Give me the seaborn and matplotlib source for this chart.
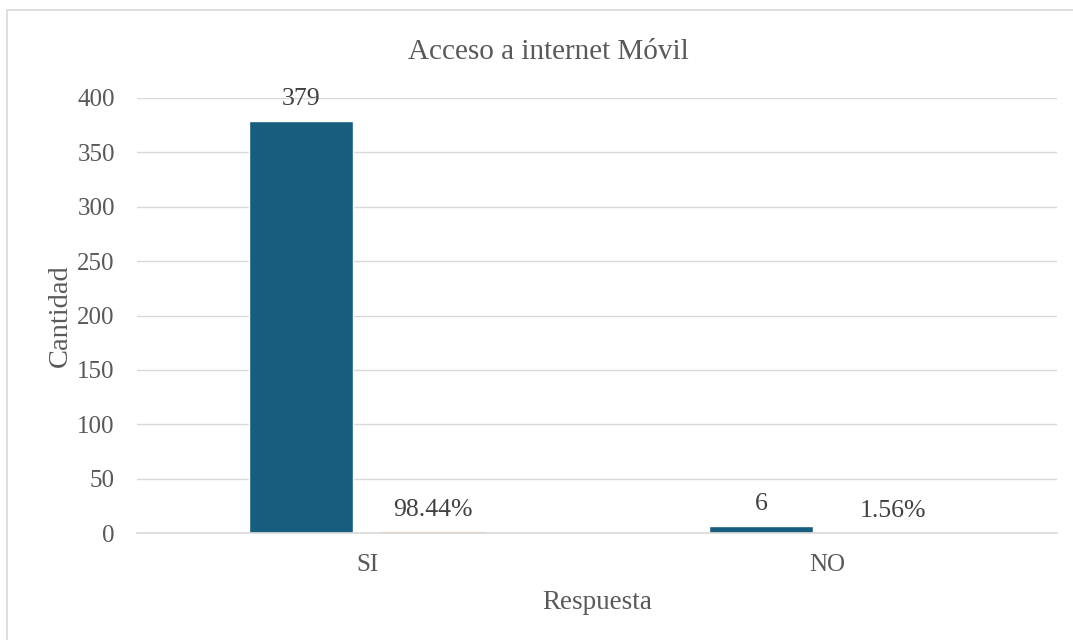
import matplotlib
matplotlib.use("Agg")
import matplotlib.pyplot as plt
import seaborn as sns
import pandas as pd
from matplotlib.patches import Rectangle

# Data
respuestas = ["SI", "NO"]
cantidad = [379, 6]
porcentaje = [0.9844, 0.0156]
series = ["Cantidad", "Porcentaje"]

df = pd.DataFrame({
    "Respuesta": respuestas * 2,
    "Serie": [series[0]] * len(respuestas) + [series[1]] * len(respuestas),
    "Valor": cantidad + porcentaje,
})

sns.set_theme(style="white")
plt.rcParams["font.family"] = ["Liberation Serif", "DejaVu Serif"]

fig = plt.figure(figsize=(10.73, 6.4), dpi=100)
ax = fig.add_axes([137 / 1073, 1 - 533 / 640, 920 / 1073, 435 / 640])

palette = {"Cantidad": "#175e7e", "Porcentaje": "#ed9a6a"}
sns.barplot(data=df, x="Respuesta", y="Valor", hue="Serie", order=respuestas,
            hue_order=series, palette=palette, width=0.572, gap=0.21,
            legend=False, ax=ax, saturation=1)

ax.set_ylim(0, 400)
ax.set_xlim(-0.5, 1.5)
ax.set_yticks(range(0, 401, 50))
ax.yaxis.grid(True, color="#d9d9d9", linewidth=1)
ax.set_axisbelow(True)
for s in ["top", "right", "left"]:
    ax.spines[s].set_visible(False)
ax.spines["bottom"].set_color("#d9d9d9")
ax.spines["bottom"].set_linewidth(1.2)
ax.tick_params(axis="y", length=0, labelsize=18, colors="#595959", pad=16)
ax.tick_params(axis="x", length=0, labelsize=18, colors="#595959", pad=15)

# Keep the tiny percentage bars visible as a thin line
for patch in ax.containers[1]:
    patch.set_edgecolor(palette["Porcentaje"])
    patch.set_linewidth(0.8)
    patch.set_alpha(0.7)

# Value labels
for container, serie in zip(ax.containers, series):
    if serie == "Cantidad":
        labels = [f"{v:d}" for v in cantidad]
    else:
        labels = [f"{v * 100:.2f}%" for v in porcentaje]
    ax.bar_label(container, labels=labels, padding=8, fontsize=18.5, color="#404040")

# Title centred on the whole chart area
fig.text(548 / 1073, 1 - 52 / 640, "Acceso a internet Móvil", fontsize=21,
         color="#595959", ha="center", va="center")
ax.set_xlabel("Respuesta", fontsize=19.5, color="#595959", labelpad=10)
ax.set_ylabel("Cantidad", fontsize=20.5, color="#595959", labelpad=3)

# Chart border
fig.patches.append(Rectangle((7 / 1073, -0.01), 1.02, 1 - 10 / 640 + 0.01,
                             transform=fig.transFigure, fill=False,
                             edgecolor="#d9d9d9", linewidth=1.2))

fig.savefig("out.png", dpi=100)
